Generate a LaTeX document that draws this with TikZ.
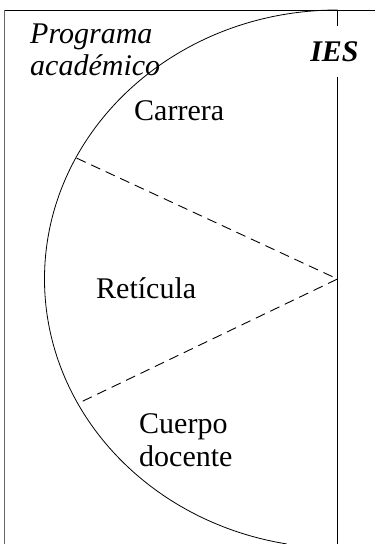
\documentclass[tikz,border=0pt]{standalone}
\usepackage{fontspec}
\setmainfont{Liberation Serif}
\usetikzlibrary{calc}

\begin{document}
\begin{tikzpicture}[x=1pt,y=1pt,
  lbl/.style={font=\fontsize{30}{33}\selectfont,inner sep=0pt},
  part/.style={dash pattern=on 10pt off 6pt,line width=0.9pt}]
\useasboundingbox (0,0) rectangle (375,544);
\coordinate (tl) at (4,534);
\coordinate (tr) at (375,534);
\coordinate (bl) at (4,0);
\coordinate (iestop) at (337.5,534);
\coordinate (iesbot) at (337.5,0);
\coordinate (ctr) at (337.5,265);
\coordinate (up)  at ($(ctr)+({292*cos(153.3)},{269*sin(153.3)})$);
\coordinate (low) at ($(ctr)+({292*cos(207.5)},{269*sin(207.5)})$);
% frame
\draw[line width=0.9pt] (tl) -- (tr);
\draw[line width=0.9pt,black!60] (tl) -- (bl);
\node[lbl,font=\fontsize{30}{33}\selectfont\bfseries\itshape,anchor=base,text height=36pt,text depth=15pt] (ies) at (334.5,482) {IES};
\draw[line width=0.9pt] (iestop) -- (ies.north -| iestop);
\draw[line width=0.9pt] (ies.south -| iestop) -- (iesbot);
% half ellipse
\draw[line width=0.8pt] (iestop) arc[start angle=90, end angle=260, x radius=293, y radius=269];
\draw[part] (up) -- (ctr) -- (low);
% labels
\node[lbl,font=\fontsize{30}{32}\selectfont\itshape,align=left,anchor=north west] (prog) at (30,520) {Programa\\acad\'emico};
\node[lbl,anchor=base west] (carrera) at (134,423) {Carrera};
\node[lbl,anchor=base west] (reticula) at (96,245) {Ret\'icula};
\node[lbl,align=left,anchor=north west] (cuerpo) at (139,131) {Cuerpo\\docente};
\end{tikzpicture}
\end{document}
